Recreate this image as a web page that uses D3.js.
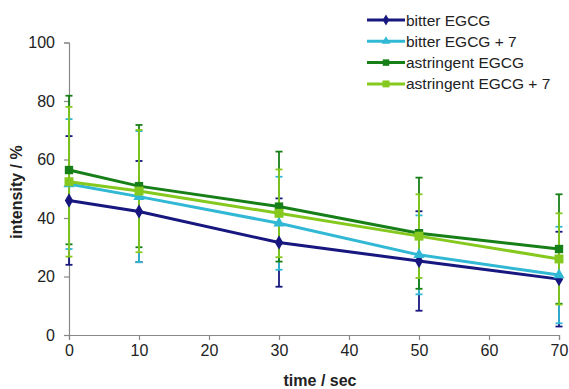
<!DOCTYPE html>
<html>
<head>
<meta charset="utf-8">
<script src="https://cdn.jsdelivr.net/npm/d3@7"></script>
<style>
  body { margin: 0; background: #fff; }
  text { font-family: "Liberation Sans", Arial, sans-serif; fill: #222; }
</style>
</head>
<body>
<script>
///////////////////   Data   /////////////////

var times = [0, 10, 30, 50, 70];
var seriesNames = ["bitter EGCG", "bitter EGCG + 7", "astringent EGCG", "astringent EGCG + 7"];

var bitterMean = [46, 42.2, 31.6, 25.3, 19.1],
    bitterSd = [22, 17.3, 15.1, 17, 16.2];
var bitter7Mean = [51.6, 47.3, 38.2, 27.4, 20.5],
    bitter7Sd = [22.2, 22.4, 15.9, 13.5, 16.5];
var astrMean = [56.4, 50.9, 43.9, 34.8, 29.4],
    astrSd = [25.4, 20.9, 18.8, 19, 18.7];
var astr7Mean = [52.4, 49.2, 41.6, 33.8, 26],
    astr7Sd = [25.6, 20.9, 15, 14.3, 15.6];

var xTicks = [0, 10, 20, 30, 40, 50, 60, 70],
    yTicks = [0, 20, 40, 60, 80, 100];

///////////////////   Styles   /////////////////

var colors = ["#17177f", "#30b8d4", "#177f17", "#86c91e"];
var markers = [d3.symbolDiamond, d3.symbolTriangle, d3.symbolSquare, d3.symbolSquare];
var markerSize = [60, 55, 70, 80];

var series = [
  {name: seriesNames[0], mean: bitterMean, sd: bitterSd},
  {name: seriesNames[1], mean: bitter7Mean, sd: bitter7Sd},
  {name: seriesNames[2], mean: astrMean, sd: astrSd},
  {name: seriesNames[3], mean: astr7Mean, sd: astr7Sd}
];

var width = 569, height = 389;
var svg = d3.select("body").append("svg")
  .attr("width", width).attr("height", height);

var x = d3.scaleLinear().domain([0, 70]).range([69, 559]);
var y = d3.scaleLinear().domain([0, 100]).range([335, 42.5]);

// axes
var xAxis = svg.append("g").attr("transform", "translate(0," + y(0) + ")")
  .call(d3.axisBottom(x).tickValues(xTicks).tickSize(5).tickPadding(5));
var yAxis = svg.append("g").attr("transform", "translate(" + x(0) + ",0)")
  .call(d3.axisLeft(y).tickValues(yTicks).tickSize(5).tickPadding(9));

[xAxis, yAxis].forEach(function(a) {
  a.select(".domain").attr("stroke", "#888").attr("stroke-width", 1.2);
  a.selectAll(".tick line").attr("stroke", "#888").attr("stroke-width", 1.2);
  a.selectAll(".tick text").attr("font-size", 16).attr("fill", "#222")
    .style("font-family", "Liberation Sans, Arial, sans-serif");
});

// error bars
series.forEach(function(s, si) {
  var g = svg.append("g");
  times.forEach(function(t, i) {
    var hi = y(s.mean[i] + s.sd[i]), lo = y(Math.max(0, s.mean[i] - s.sd[i]));
    g.append("line").attr("x1", x(t)).attr("x2", x(t)).attr("y1", hi).attr("y2", lo)
      .attr("stroke", colors[si]).attr("stroke-width", 1.8);
    [hi, lo].forEach(function(v) {
      g.append("line").attr("x1", x(t) - 3.5).attr("x2", x(t) + 3.5).attr("y1", v).attr("y2", v)
        .attr("stroke", colors[si]).attr("stroke-width", 1.8);
    });
  });
});

// lines and markers
var line = d3.line().x(function(d, i) { return x(times[i]); }).y(function(d) { return y(d); });
series.forEach(function(s, si) {
  svg.append("path").attr("d", line(s.mean)).attr("fill", "none")
    .attr("stroke", colors[si]).attr("stroke-width", 3);
  svg.selectAll(null).data(s.mean).enter().append("path")
    .attr("transform", function(d, i) { return "translate(" + x(times[i]) + "," + y(d) + ")"; })
    .attr("d", d3.symbol().type(markers[si]).size(markerSize[si]))
    .attr("fill", colors[si]);
});

// axis titles
svg.append("text").attr("x", 320).attr("y", 386).attr("text-anchor", "middle")
  .attr("font-size", 16).attr("font-weight", "bold").text("time / sec");
svg.append("text").attr("transform", "translate(22,192) rotate(-90)")
  .attr("text-anchor", "middle").attr("font-size", 16).attr("font-weight", "bold")
  .text("intensity / %");

// legend
var legend = svg.append("g");
series.forEach(function(s, si) {
  var ly = 20 + si * 21.3;
  legend.append("line").attr("x1", 367).attr("x2", 405).attr("y1", ly).attr("y2", ly)
    .attr("stroke", colors[si]).attr("stroke-width", 3);
  legend.append("path").attr("transform", "translate(386," + ly + ")")
    .attr("d", d3.symbol().type(markers[si]).size(markerSize[si] * 0.6))
    .attr("fill", colors[si]);
  legend.append("text").attr("x", 406).attr("y", ly + 5.5).attr("font-size", 15.5)
    .text(s.name);
});
</script>
</body>
</html>
